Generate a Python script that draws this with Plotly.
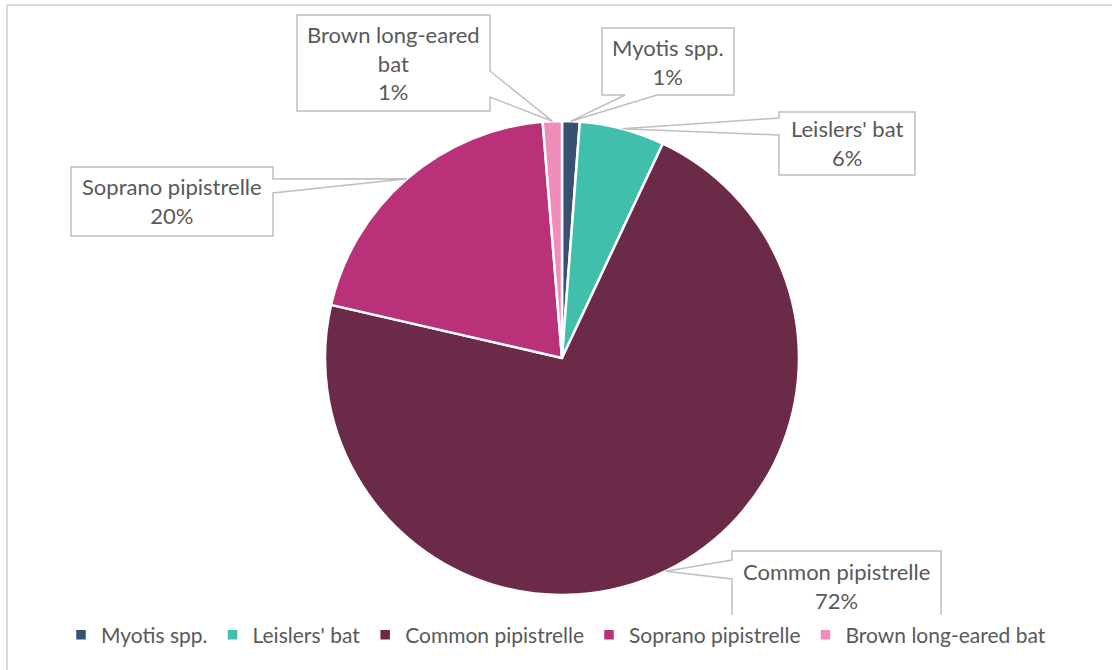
import math
import plotly.graph_objects as go

# Bat species recorded, share of total passes
species = ["Myotis spp.", "Leislers' bat", "Common pipistrelle",
           "Soprano pipistrelle", "Brown long-eared bat"]
passes = [1.2, 5.8, 71.6, 20.1, 1.3]
colors = ["#375173", "#40BFAD", "#6B2A47", "#B93178", "#F08CBA"]

# Callout text for each slice (name lines as they wrap in the boxes)
callout_names = ["Myotis spp.", "Leislers' bat", "Common pipistrelle",
                 "Soprano pipistrelle", "Brown long-eared<br>bat"]

W, H = 1112, 670
FONT = "Lato"
TEXT_COLOR = "#595959"

# Pie geometry in pixels
CX, CY, R = 562, 358, 237


def px(x):
    return x / W


def py(y):
    return 1 - y / H


fig = go.Figure(go.Pie(
    labels=species,
    values=passes,
    sort=False,
    direction="clockwise",
    rotation=0,
    textinfo="none",
    hoverinfo="label+percent",
    marker=dict(colors=colors, line=dict(color="white", width=2.5)),
    domain=dict(x=[px(CX - R), px(CX + R)], y=[py(CY + R), py(CY - R)]),
))

# Callout boxes: (left, top, right, bottom), side of the pointer, pointer base
boxes = [
    ((602, 28, 734, 95), "bottom", (625, 657)),
    ((779, 112, 915, 175), "left", (118, 135)),
    ((732, 551, 941, 620), "left", (560, 579)),
    ((71, 167, 273, 236), "right", (179, 193)),
    ((297, 15, 490, 111), "right", (71, 97)),
]

total = sum(passes)
cum = 0.0
shapes = []
annotations = []
for name, v, (box, side, base) in zip(callout_names, passes, boxes):
    mid = (cum + v / 2) / total * 2 * math.pi
    cum += v
    tx = CX + R * math.sin(mid)
    ty = CY - R * math.cos(mid)
    x0, y0, x1, y1 = box
    if side == "right":
        pts = [(x0, y0), (x1, y0), (x1, base[0]), (tx, ty), (x1, base[1]),
               (x1, y1), (x0, y1)]
    elif side == "left":
        pts = [(x0, y0), (x1, y0), (x1, y1), (x0, y1), (x0, base[1]),
               (tx, ty), (x0, base[0])]
    else:  # bottom
        pts = [(x0, y0), (x1, y0), (x1, y1), (base[1], y1), (tx, ty),
               (base[0], y1), (x0, y1)]
    path = "M " + " L ".join(f"{px(a):.5f},{py(b):.5f}" for a, b in pts) + " Z"
    shapes.append(dict(type="path", xref="paper", yref="paper", path=path,
                       fillcolor="white", line=dict(color="#BFBFBF", width=1.5),
                       layer="above"))
    pct = round(v / total * 100)
    annotations.append(dict(
        x=px((x0 + x1) / 2), y=py((y0 + y1) / 2), xref="paper", yref="paper",
        xanchor="center", yanchor="middle", showarrow=False,
        text=f"{name}<br>{pct}%", align="center",
        font=dict(family=FONT, size=22, color=TEXT_COLOR),
    ))

# Chart area frame
shapes.append(dict(type="line", xref="paper", yref="paper",
                   x0=px(7), y0=py(5), x1=1.01, y1=py(5),
                   line=dict(color="#D9D9D9", width=2)))
shapes.append(dict(type="line", xref="paper", yref="paper",
                   x0=px(7), y0=py(5), x1=px(7), y1=-0.01,
                   line=dict(color="#D9D9D9", width=2)))

fig.update_layout(
    width=W, height=H,
    margin=dict(l=0, r=0, t=0, b=0),
    paper_bgcolor="white",
    plot_bgcolor="white",
    shapes=shapes,
    annotations=annotations,
    showlegend=True,
    legend=dict(
        orientation="h", x=0.5, xanchor="center", y=py(635), yanchor="middle",
        font=dict(family=FONT, size=21, color=TEXT_COLOR),
        itemwidth=30, traceorder="normal",
    ),
)

fig.write_html("out.html")
